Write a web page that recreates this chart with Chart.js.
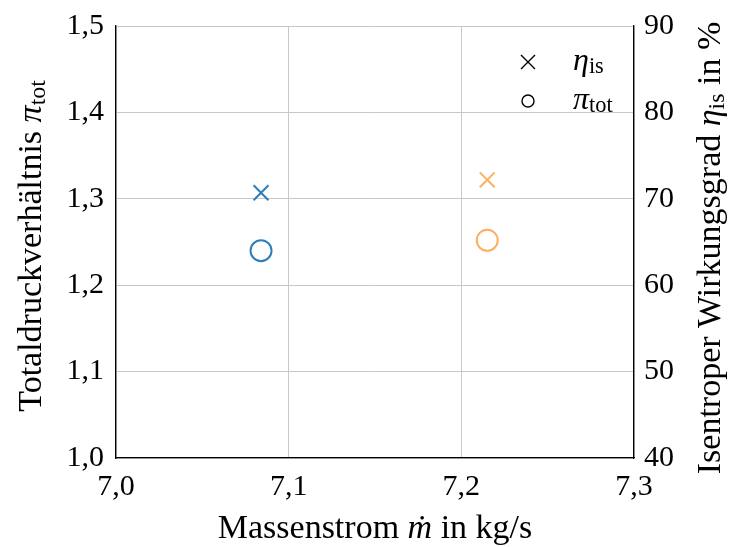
<!DOCTYPE html>
<html>
<head>
<meta charset="utf-8">
<script src="https://cdn.jsdelivr.net/npm/chart.js@4"></script>
<style>
    html, body { margin: 0; padding: 0; background: #fff; }
    #wrap { width: 729px; height: 547px; position: relative; }
</style>
</head>
<body>
<div id="wrap"><canvas id="chart"></canvas></div>
<script>
// data
const massFlow = [7.084, 7.215];        // kg/s
const piTot = [1.240, 1.252];           // Totaldruckverhältnis
const etaIs = [70.7, 72.2];             // Wirkungsgrad in %
const pointColors = ['#2c7fb8', '#fdae61'];
const xTicks = [7.0, 7.1, 7.2, 7.3];
const yLeftTicks = [1.0, 1.1, 1.2, 1.3, 1.4, 1.5];
const yRightTicks = [40, 50, 60, 70, 80, 90];

const FONT = '"Liberation Serif", "DejaVu Serif", serif';
const comma = v => v.toFixed(1).replace('.', ',');

// draws text with italic / subscript runs; centred on (0,0) unless left = true
function richText(ctx, parts, size, left) {
    const runs = parts.map(p => {
        const s = p.sub ? size * 0.7 : size;
        const f = (p.it ? 'italic ' : '') + s + 'px ' + FONT;
        ctx.font = f;
        return { ...p, f, w: ctx.measureText(p.t).width };
    });
    const total = runs.reduce((a, r) => a + r.w, 0);
    let x = left ? 0 : -total / 2;
    ctx.textBaseline = 'alphabetic';
    ctx.textAlign = 'left';
    runs.forEach(r => {
        ctx.font = r.f;
        ctx.fillText(r.t, x, r.sub ? size * 0.42 : size * 0.3);
        x += r.w;
    });
}

const decorations = {
    id: 'decorations',
    afterDraw(chart) {
        const ctx = chart.ctx;
        ctx.save();
        ctx.fillStyle = '#000';
        // left axis title
        ctx.save();
        ctx.translate(31, 246);
        ctx.rotate(-Math.PI / 2);
        richText(ctx, [{ t: 'Totaldruckverhältnis ' }, { t: 'π', it: true }, { t: 'tot', sub: true }], 34);
        ctx.restore();
        // right axis title
        ctx.save();
        ctx.translate(710, 248);
        ctx.rotate(-Math.PI / 2);
        richText(ctx, [{ t: 'Isentroper Wirkungsgrad ' }, { t: 'η', it: true }, { t: 'is', sub: true }, { t: ' in %' }], 34);
        ctx.restore();
        // x axis title
        ctx.save();
        ctx.translate(375, 528);
        richText(ctx, [{ t: 'Massenstrom ' }, { t: 'ṁ', it: true }, { t: ' in kg/s' }], 34);
        ctx.restore();

        // legend
        ctx.strokeStyle = '#000';
        ctx.lineWidth = 1.4;
        const lx = 528;
        ctx.beginPath();
        ctx.moveTo(lx - 7, 55); ctx.lineTo(lx + 7, 69);
        ctx.moveTo(lx + 7, 55); ctx.lineTo(lx - 7, 69);
        ctx.stroke();
        ctx.beginPath();
        ctx.arc(lx, 101, 6, 0, Math.PI * 2);
        ctx.stroke();
        ctx.save();
        ctx.translate(573, 60);
        richText(ctx, [{ t: 'η', it: true }, { t: 'is', sub: true }], 32, true);
        ctx.restore();
        ctx.save();
        ctx.translate(573, 99);
        richText(ctx, [{ t: 'π', it: true }, { t: 'tot', sub: true }], 32, true);
        ctx.restore();
        ctx.restore();
    }
};

const fitY = w => s => { s.width = w; s.paddingTop = 0; s.paddingBottom = 0; };

new Chart(document.getElementById('chart'), {
    type: 'scatter',
    data: {
        datasets: [
            {
                label: 'η_is',
                yAxisID: 'y1',
                data: massFlow.map((x, i) => ({ x, y: etaIs[i] })),
                pointStyle: 'crossRot',
                pointRadius: 10.5,
                pointBorderWidth: 2,
                pointBorderColor: pointColors,
                pointBackgroundColor: pointColors
            },
            {
                label: 'π_tot',
                yAxisID: 'y',
                data: massFlow.map((x, i) => ({ x, y: piTot[i] })),
                pointStyle: 'circle',
                pointRadius: 10.5,
                pointBorderWidth: 2,
                pointBorderColor: pointColors,
                pointBackgroundColor: 'rgba(0,0,0,0)'
            }
        ]
    },
    options: {
        responsive: true,
        maintainAspectRatio: false,
        animation: false,
        layout: { padding: { top: 26, left: 0, right: 0, bottom: 0 } },
        plugins: { legend: { display: false }, tooltip: { enabled: false } },
        scales: {
            x: {
                type: 'linear',
                min: 7.0, max: 7.3,
                afterBuildTicks: s => { s.ticks = xTicks.map(v => ({ value: v })); },
                afterFit: s => { s.height = 89; s.paddingLeft = 0; s.paddingRight = 0; },
                ticks: { callback: v => comma(v), color: '#000', font: { family: FONT, size: 30 }, padding: 11, maxRotation: 0 },
                grid: { color: '#c8c8c8', lineWidth: 1, drawTicks: false },
                border: { color: '#000', width: 1.3 }
            },
            y: {
                position: 'left',
                min: 1.0, max: 1.5,
                afterBuildTicks: s => { s.ticks = yLeftTicks.map(v => ({ value: v })); },
                afterFit: fitY(116),
                ticks: { callback: v => comma(v), color: '#000', font: { family: FONT, size: 30 }, padding: 12 },
                grid: { color: '#c8c8c8', lineWidth: 1, drawTicks: false },
                border: { color: '#000', width: 1.3 }
            },
            y1: {
                position: 'right',
                min: 40, max: 90,
                afterBuildTicks: s => { s.ticks = yRightTicks.map(v => ({ value: v })); },
                afterFit: fitY(95),
                ticks: { color: '#000', font: { family: FONT, size: 30 }, padding: 10 },
                grid: { drawOnChartArea: false, drawTicks: false },
                border: { color: '#000', width: 1.3 }
            }
        }
    },
    plugins: [decorations]
});

// closing top border of the box
Chart.register({
    id: 'topBorder',
    afterDatasetsDraw(chart) {
        const { ctx, chartArea: a } = chart;
        ctx.save();
        ctx.strokeStyle = '#000';
        ctx.lineWidth = 1.3;
        ctx.beginPath();
        ctx.moveTo(a.left, a.top);
        ctx.lineTo(a.right, a.top);
        ctx.stroke();
        ctx.restore();
    }
});
</script>
</body>
</html>
